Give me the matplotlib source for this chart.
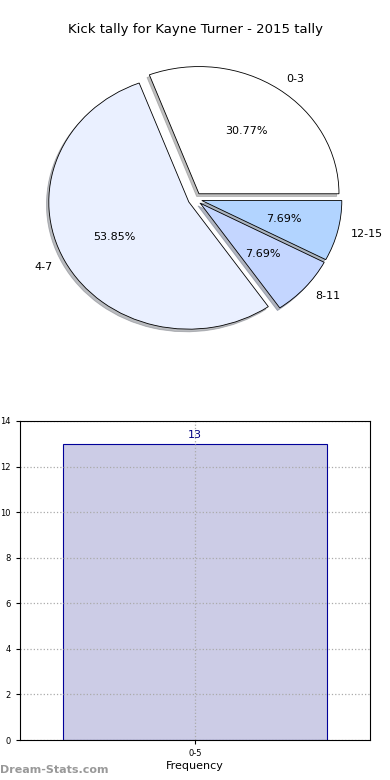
import matplotlib
matplotlib.use("Agg")
import matplotlib.pyplot as plt

pie_labels = ["0-3", "4-7", "8-11", "12-15"]
pie_values = [4, 7, 1, 1]
pie_colors = ["#ffffff", "#eaf0ff", "#c4d6ff", "#b2d4ff"]

bar_categories = ["0-5"]
bar_values = [13]
y_ticks = [0, 2, 4, 6, 8, 10, 12, 14]

fig = plt.figure(figsize=(3.9, 7.8), dpi=100)

# pie axes: x scale ~140 px/unit, y scale ~127 px/unit (slightly squashed like reference)
ax1 = fig.add_axes([20/390, 1 - 358/780, 350/390, 318/780])
ax1.pie(pie_values, labels=pie_labels, colors=pie_colors, explode=[0.05]*4,
        autopct="%.2f%%", startangle=0, counterclock=True,
        shadow=dict(ox=-0.012, oy=-0.015, shade=0.5),
        wedgeprops=dict(edgecolor="black", linewidth=0.6),
        textprops=dict(fontsize=8))
ax1.set_aspect("auto")
ax1.set_xlim(-1.25, 1.25)
ax1.set_ylim(-1.25, 1.25)
fig.text(0.5, 1 - 30/780, "Kick tally for Kayne Turner - 2015 tally", ha="center", va="center", fontsize=9.5)

ax2 = fig.add_axes([20/390, 40/780, 350/390, 319/780])
x = list(range(len(bar_categories)))
ax2.bar(x, bar_values, width=0.755, color="#ccccE6", edgecolor="#000099", linewidth=0.8, zorder=1)
ax2.set_xlim(-0.5, 0.5)
ax2.set_ylim(0, 14)
ax2.set_yticks(y_ticks)
ax2.set_xticks(x)
ax2.set_xticklabels(bar_categories)
ax2.tick_params(labelsize=6, length=3)
ax2.grid(True, linestyle=":", color="#aaaaaa", linewidth=0.9, zorder=2)
ax2.set_axisbelow(False)
for s in ax2.spines.values():
    s.set_zorder(5)
for xi, v in zip(x, bar_values):
    ax2.text(xi, v + 0.15, str(v), ha="center", va="bottom", fontsize=8, color="navy")
ax2.set_xlabel("Frequency", fontsize=8, labelpad=2)
ax2.set_ylabel("Kick tally", fontsize=8)
ax2.yaxis.set_label_coords(-0.065, 0.5)

fig.text(0.0, 1 - 770/780, "Dream-Stats.com", ha="left", va="center", fontsize=8, color="#999999", fontweight="bold")

fig.savefig("out.png", dpi=100)
